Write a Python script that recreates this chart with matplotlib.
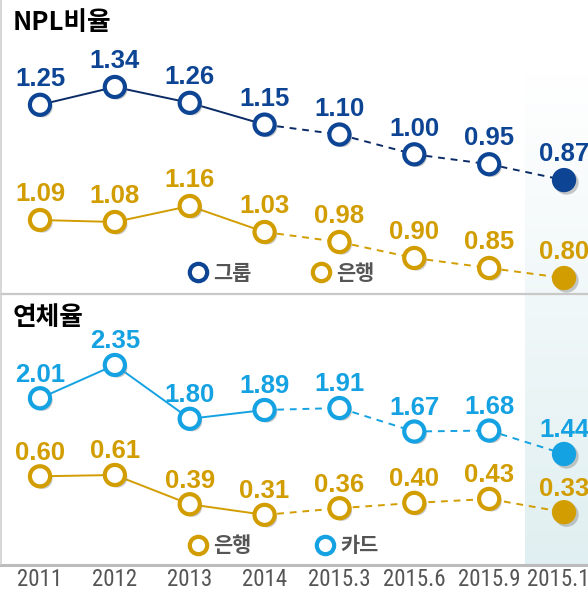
import numpy as np
import matplotlib.pyplot as plt
import matplotlib.patheffects as pe
from matplotlib.lines import Line2D

plt.rcParams['font.family'] = ['Liberation Sans', 'Noto Sans CJK KR', 'DejaVu Sans']

periods = ['2011', '2012', '2013', '2014', '2015.3', '2015.6', '2015.9', '2015.12']
npl_group = [1.25, 1.34, 1.26, 1.15, 1.10, 1.00, 0.95, 0.87]
npl_bank = [1.09, 1.08, 1.16, 1.03, 0.98, 0.90, 0.85, 0.80]
delinq_card = [2.01, 2.35, 1.80, 1.89, 1.91, 1.67, 1.68, 1.44]
delinq_bank = [0.60, 0.61, 0.39, 0.31, 0.36, 0.40, 0.43, 0.33]

NAVY = '#0d4594'
NAVY_LINE = '#0b2b66'
GOLD = '#d29d00'
CYAN = '#15a2e2'
GRAY = '#555555'

W, H = 588, 594
fig = plt.figure(figsize=(W / 100, H / 100), dpi=100)

# background decorations in pixel coords
bg = fig.add_axes([0, 0, 1, 1], zorder=-1)
bg.set_xlim(0, W)
bg.set_ylim(H, 0)
bg.axis('off')
grad = np.linspace(0, 1, 256).reshape(-1, 1)
top_c = np.array([1.0, 1.0, 1.0])
bot_c = np.array([0.878, 0.937, 0.945])
img = top_c + grad[..., None] * (bot_c - top_c)
img = np.repeat(img, 2, axis=1)
bg.imshow(img, extent=(525, W, 565, 73), aspect='auto', zorder=0)
bg.plot([0, W], [294, 294], color='#c8c8c8', lw=1.6, zorder=1)
bg.plot([0, W], [564.5, 564.5], color='#bcbcbc', lw=2.2, zorder=1)
bg.plot([1, 1], [0, 564], color='#d0d0d0', lw=1.2, zorder=1)

xlim = (-40 / 74.86, (W - 40) / 74.86)
x = np.arange(len(periods))
shadow = [pe.SimplePatchShadow(offset=(1.8, -1.8), shadow_rgbFace='#888888', alpha=0.45), pe.Normal()]


def series_axes(rect, ylim):
    a = fig.add_axes(rect)
    a.set_xlim(*xlim)
    a.set_ylim(*ylim)
    a.patch.set_visible(False)
    a.axis('off')
    return a


def draw_series(a, vals, color, line_color, off):
    a.plot(x[:4], vals[:4], color=line_color, lw=1.4, zorder=2)
    a.plot(x[3:], vals[3:], color=line_color, lw=1.4, ls=(0, (3.5, 3)), zorder=2)
    a.plot(x[:-1], vals[:-1], ls='none', marker='o', ms=14.5, mew=3,
           mec=color, mfc='white', zorder=3, path_effects=shadow)
    a.plot(x[-1:], vals[-1:], ls='none', marker='o', ms=17.5, mew=0,
           mfc=color, zorder=3, path_effects=shadow)
    for xi, v in zip(x, vals):
        a.annotate(f'{v:.2f}', (xi, v), xytext=(0, off), textcoords='offset points',
                   ha='center', va='baseline', fontsize=18.5, fontweight='bold',
                   color=color, annotation_clip=False)


top_rect = [0, 300 / H, 1, 294 / H]
bot_rect = [0, 29 / H, 1, 271 / H]

a1 = series_axes(top_rect, (0.295, 1.779))
draw_series(a1, npl_group, NAVY, NAVY_LINE, 13.5)
a2 = series_axes(top_rect, (0.72, 2.19))
draw_series(a2, npl_bank, GOLD, GOLD, 13.5)

a3 = series_axes(bot_rect, (0.305, 3.076))
draw_series(a3, delinq_card, CYAN, CYAN, 12)
a4 = series_axes(bot_rect, (-0.067, 1.971))
draw_series(a4, delinq_bank, GOLD, GOLD, 12)

# x tick labels
a4.axis('on')
for s in a4.spines.values():
    s.set_visible(False)
a4.set_yticks([])
a4.set_xticks(x)
a4.set_xticklabels(periods, family=['Roboto Condensed', 'DejaVu Sans'], stretch='condensed',
                   fontsize=16.5, color=GRAY)
a4.tick_params(axis='x', length=0, pad=2.5)

# panel titles
fig.text(13 / W, 1 - 30 / H, 'NPL비율', fontsize=18.5, fontweight='bold', color='black',
         family=['Noto Sans CJK KR'])
fig.text(13 / W, 1 - 325 / H, '연체율', fontsize=18.5, fontweight='bold', color='black',
         family=['Noto Sans CJK KR'])


def ring(c):
    return Line2D([], [], ls='none', marker='o', ms=12.5, mew=3, mec=c, mfc='white')


leg_kw = dict(frameon=False, ncol=2, loc='center', handlelength=0.8, handletextpad=0.36,
              prop={'family': 'Noto Sans CJK KR', 'weight': 'bold', 'size': 15},
              labelcolor=GRAY, borderpad=0)
l1 = fig.legend([ring(NAVY), ring(GOLD)], ['그룹', '은행'], columnspacing=2.9,
                bbox_to_anchor=(282 / W, 1 - 273 / H), **leg_kw)
l2 = fig.legend([ring(GOLD), ring(CYAN)], ['은행', '카드'], columnspacing=3.1,
                bbox_to_anchor=(284 / W, 1 - 546 / H), **leg_kw)

fig.savefig('out.png', dpi=100, facecolor='white')
